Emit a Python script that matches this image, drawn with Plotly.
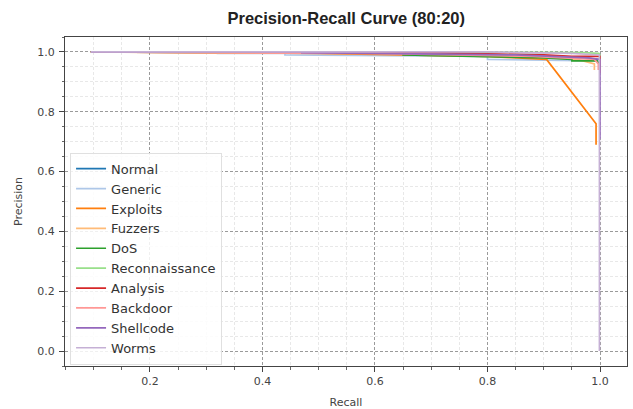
import plotly.graph_objects as go

classes = ["Normal", "Generic", "Exploits", "Fuzzers", "DoS", "Reconnaissance",
           "Analysis", "Backdoor", "Shellcode", "Worms"]
colors = ["#1f77b4", "#aec7e8", "#ff7f0e", "#ffbb78", "#2ca02c", "#98df8a",
          "#d62728", "#ff9896", "#9467bd", "#c5b0d5"]

recall = {
    "Normal": [0.095, 0.60, 0.80, 0.90, 0.97, 0.998, 1.0, 1.0],
    "Generic": [0.095, 0.32, 0.32, 0.44, 0.44, 0.80, 0.80, 0.97, 0.997, 1.0],
    "Exploits": [0.095, 0.50, 0.80, 0.905, 0.993, 0.993],
    "Fuzzers": [0.095, 0.60, 0.85, 0.96, 0.99, 0.99],
    "DoS": [0.095, 0.65, 0.65, 0.90, 0.95, 0.95, 0.995, 0.998],
    "Reconnaissance": [0.095, 0.85, 0.97, 0.998, 1.0, 1.0],
    "Analysis": [0.095, 0.70, 0.90, 0.95, 1.0, 1.0],
    "Backdoor": [0.095, 0.60, 0.88, 0.93, 0.99, 0.997, 0.997],
    "Shellcode": [0.095, 0.47, 0.47, 0.85, 0.98, 1.0, 1.0],
    "Worms": [0.095, 0.80, 0.95, 0.999, 0.999],
}
precision = {
    "Normal": [1.0, 0.995, 0.99, 0.985, 0.98, 0.975, 0.96, 0.95],
    "Generic": [1.0, 1.0, 0.995, 0.995, 0.99, 0.985, 0.975, 0.97, 0.97, 0.96],
    "Exploits": [1.0, 0.995, 0.985, 0.975, 0.76, 0.69],
    "Fuzzers": [1.0, 0.995, 0.985, 0.975, 0.96, 0.94],
    "DoS": [1.0, 1.0, 0.99, 0.98, 0.975, 0.97, 0.97, 0.96],
    "Reconnaissance": [1.0, 1.0, 0.998, 0.995, 0.99, 0.98],
    "Analysis": [1.0, 0.998, 0.99, 0.985, 0.985, 0.93],
    "Backdoor": [1.0, 0.995, 0.985, 0.98, 0.975, 0.96, 0.94],
    "Shellcode": [1.0, 1.0, 0.998, 0.99, 0.98, 0.975, 0.71],
    "Worms": [1.0, 1.0, 0.995, 0.99, 0.0],
}

fig = go.Figure()
for name, col in zip(classes, colors):
    fig.add_trace(go.Scatter(x=recall[name], y=precision[name], mode="lines",
                             name=name, line=dict(color=col, width=1.7)))

axis_common = dict(
    showline=True, linecolor="#444", linewidth=1, mirror=True,
    ticks="outside", ticklen=5, tickcolor="#444",
    tickfont=dict(family="DejaVu Sans", size=11, color="#444"),
    showgrid=True, gridcolor="#9a9a9a", griddash="3px,2px", gridwidth=0.8,
    zeroline=False, automargin=False,
    minor=dict(showgrid=True, gridcolor="#e8e8e8", gridwidth=0.6,
               ticks="outside", ticklen=2.5, tickcolor="#666", dtick=0.05),
)

fig.update_xaxes(range=[0.049, 1.048], tickvals=[0.2, 0.4, 0.6, 0.8, 1.0],
                 ticktext=["0.2", "0.4", "0.6", "0.8", "1.0"], ticklabelstandoff=0,
                 title=dict(text="Recall", font=dict(family="DejaVu Sans", size=11, color="#444"), standoff=19),
                 **axis_common)
fig.update_yaxes(range=[-0.05, 1.05], tickvals=[0.0, 0.2, 0.4, 0.6, 0.8, 1.0],
                 ticktext=["0.0", "0.2", "0.4", "0.6", "0.8", "1.0"], ticklabelstandoff=2,
                 title=dict(text="Precision", font=dict(family="DejaVu Sans", size=11, color="#444"), standoff=12),
                 **axis_common)

fig.update_layout(
    width=633, height=409,
    margin=dict(l=65, r=6, t=37, b=43),
    paper_bgcolor="white", plot_bgcolor="white",
    title=dict(text="<b>Precision-Recall Curve (80:20)</b>", x=0.547, xanchor="center",
               y=0.955, yanchor="middle",
               font=dict(family="Liberation Sans", size=16.5, color="#222")),
    legend=dict(x=0.009, y=0.004, xanchor="left", yanchor="bottom",
                bgcolor="rgba(255,255,255,0.85)", bordercolor="#e0e0e0", borderwidth=1,
                font=dict(family="DejaVu Sans", size=13, color="#333"),
                tracegroupgap=0, itemwidth=30),
    showlegend=True,
)

fig.write_html("out.html")
